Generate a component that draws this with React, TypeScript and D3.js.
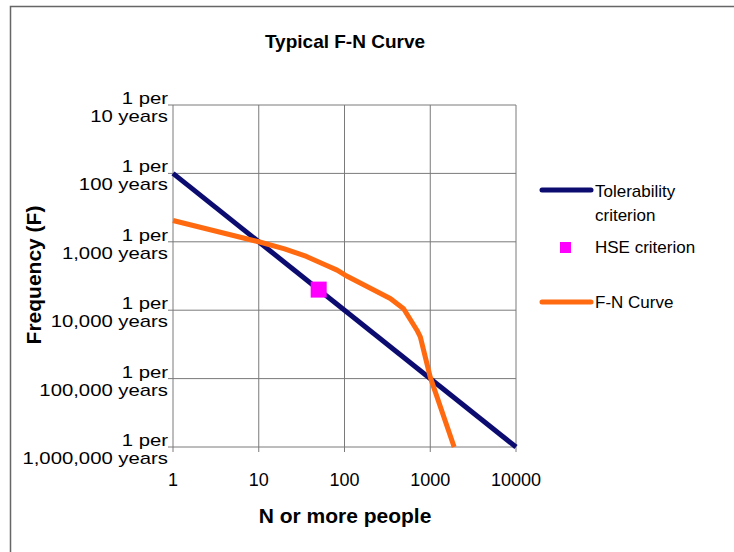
import React, { useEffect, useRef } from 'react';
import * as d3 from 'd3';

// N or more people (x), frequency per year (y)
const xTicks = [1, 10, 100, 1000, 10000];
const yTicks = [1e-1, 1e-2, 1e-3, 1e-4, 1e-5, 1e-6];
const yTickTop = ['1 per', '1 per', '1 per', '1 per', '1 per', '1 per'];
const yTickBottom = ['10 years', '100 years', '1,000 years', '10,000 years', '100,000 years', '1,000,000 years'];

const tolN = [1, 10000];
const tolF = [1e-2, 1e-6];

const hseN = [50];
const hseF = [2e-4];

const fnN = [1, 10, 20, 36, 62, 82, 102, 342, 489, 700, 766, 1000, 1900];
const fnF = [2.05e-3, 1e-3, 7.9e-4, 6.1e-4, 4.5e-4, 3.85e-4, 3.25e-4, 1.48e-4, 1.05e-4, 5.1e-5, 4.07e-5, 1.05e-5, 1e-6];

const legendNames = ['Tolerability', 'HSE criterion', 'F-N Curve'];

const NAVY = '#0b0b70';
const ORANGE = '#ff6a10';
const MAGENTA = '#ff00ff';

const App = () => {
  const ref = useRef<SVGSVGElement>(null);

  useEffect(() => {
    const svg = d3.select(ref.current);
    svg.selectAll('*').remove();

    const left = 173, right = 516, top = 105, bottom = 447;
    const x = d3.scaleLog().domain([1, 10000]).range([left, right]);
    const y = d3.scaleLog().domain([1e-1, 1e-6]).range([top, bottom]);

    svg.append('rect').attr('width', 734).attr('height', 552).attr('fill', '#fff');
    // outer frame (only top and left visible)
    svg.append('path').attr('d', 'M10.5,552V6.5H734').attr('fill', 'none').attr('stroke', '#666').attr('stroke-width', 1.5);

    svg.append('text')
      .attr('x', 345).attr('y', 48)
      .attr('text-anchor', 'middle')
      .style('font-family', 'Liberation Sans, Arial, sans-serif')
      .style('font-weight', 'bold').style('font-size', '19px')
      .text('Typical F-N Curve');

    // grid
    const grid = svg.append('g').attr('stroke', '#7a7a7a').attr('stroke-width', 1);
    xTicks.forEach((t) => {
      grid.append('line').attr('x1', x(t)).attr('x2', x(t)).attr('y1', top).attr('y2', bottom + 5);
    });
    yTicks.forEach((t) => {
      grid.append('line').attr('x1', left - 5).attr('x2', right).attr('y1', y(t)).attr('y2', y(t));
    });

    // x tick labels
    svg.append('g').selectAll('text').data(xTicks).join('text')
      .attr('x', (d) => x(d)).attr('y', 486)
      .attr('text-anchor', 'middle')
      .style('font-family', 'Liberation Sans, Arial, sans-serif').style('font-size', '18px')
      .text((d) => String(d));

    // y tick labels (two lines)
    const yl = svg.append('g').style('font-family', 'Liberation Sans, Arial, sans-serif').style('font-size', '16px');
    yTicks.forEach((t, i) => {
      const g = yl.append('g').attr('transform', `translate(168,${y(t)}) scale(1.27,1)`);
      g.append('text').attr('text-anchor', 'end').attr('y', -1).text(yTickTop[i]);
      g.append('text').attr('text-anchor', 'end').attr('y', 17).text(yTickBottom[i]);
    });

    // axis titles
    svg.append('text')
      .attr('x', 345).attr('y', 523).attr('text-anchor', 'middle')
      .style('font-family', 'Liberation Sans, Arial, sans-serif')
      .style('font-weight', 'bold').style('font-size', '21px')
      .text('N or more people');
    svg.append('text')
      .attr('transform', `translate(41,275) rotate(-90)`).attr('text-anchor', 'middle')
      .style('font-family', 'Liberation Sans, Arial, sans-serif')
      .style('font-weight', 'bold').style('font-size', '21px')
      .text('Frequency (F)');

    const line = d3.line<[number, number]>()
      .x((d) => x(d[0]))
      .y((d) => y(d[1]));

    const plot = svg.append('g');
    plot.append('path')
      .datum(tolN.map((n, i) => [n, tolF[i]] as [number, number]))
      .attr('d', line).attr('fill', 'none').attr('stroke', NAVY).attr('stroke-width', 5);
    plot.append('path')
      .datum(fnN.map((n, i) => [n, fnF[i]] as [number, number]))
      .attr('d', line).attr('fill', 'none').attr('stroke', ORANGE).attr('stroke-width', 5)
      .attr('stroke-linejoin', 'round');
    plot.selectAll('rect.hse').data(hseN).join('rect')
      .attr('class', 'hse')
      .attr('x', (d) => x(d) - 8).attr('y', (d, i) => y(hseF[i]) - 8)
      .attr('width', 16).attr('height', 16).attr('fill', MAGENTA);

    // legend
    const lg = svg.append('g').style('font-family', 'Liberation Sans, Arial, sans-serif').style('font-size', '17px');
    lg.append('line').attr('x1', 542).attr('x2', 591).attr('y1', 190).attr('y2', 190)
      .attr('stroke', NAVY).attr('stroke-width', 5).attr('stroke-linecap', 'round');
    lg.append('text').attr('x', 595).attr('y', 197).text(legendNames[0]);
    lg.append('text').attr('x', 595).attr('y', 221).text('criterion');
    lg.append('rect').attr('x', 560).attr('y', 242).attr('width', 11).attr('height', 11).attr('fill', MAGENTA);
    lg.append('text').attr('x', 595).attr('y', 253).text(legendNames[1]);
    lg.append('line').attr('x1', 542).attr('x2', 591).attr('y1', 302).attr('y2', 302)
      .attr('stroke', ORANGE).attr('stroke-width', 5).attr('stroke-linecap', 'round');
    lg.append('text').attr('x', 595).attr('y', 308).text(legendNames[2]);
  }, []);

  return (
    <svg ref={ref} width={734} height={552} style={{ position: 'absolute', left: 0, top: 0 }} />
  );
};

export default App;
